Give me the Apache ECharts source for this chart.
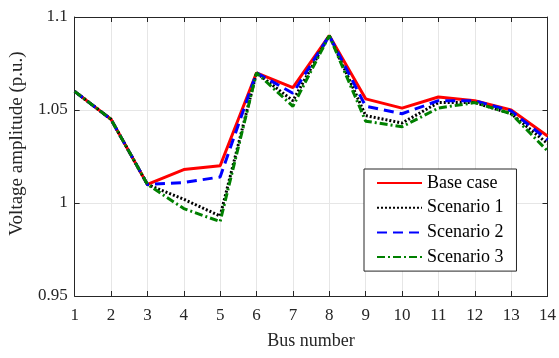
<!DOCTYPE html>
<html>
<head>
<meta charset="utf-8">
<script src="https://cdn.jsdelivr.net/npm/echarts@6/dist/echarts.min.js"></script>
<style>html,body{margin:0;padding:0;background:#fff;}#c{width:559px;height:358px;}</style>
</head>
<body>
<div id="c"></div>
<script>
const buses = [1,2,3,4,5,6,7,8,9,10,11,12,13,14];
const baseCase  = [1.060,1.045,1.010,1.018,1.020,1.070,1.062,1.090,1.056,1.051,1.057,1.055,1.050,1.036];
const scenario1 = [1.060,1.045,1.010,1.002,0.993,1.070,1.055,1.090,1.047,1.043,1.054,1.054,1.048,1.032];
const scenario2 = [1.060,1.045,1.010,1.011,1.014,1.070,1.059,1.090,1.052,1.048,1.055,1.055,1.0495,1.034];
const scenario3 = [1.060,1.045,1.010,0.997,0.990,1.070,1.052,1.090,1.044,1.041,1.051,1.054,1.048,1.028];
const seriesNames = ['Base case','Scenario 1','Scenario 2','Scenario 3'];
const yTicks = [0.95, 1, 1.05, 1.1];

const font = '"Liberation Serif","Times New Roman",serif';
const axisColor = '#262626';
const pair = arr => buses.map((b,i)=>[b,arr[i]]);

const chart = echarts.init(document.getElementById('c'));
const common = {min:1,max:14,interval:1};
chart.setOption({
  animation:false,
  backgroundColor:'#fff',
  grid:{left:74,right:9,top:17,bottom:62,containLabel:false},
  xAxis:[{
    type:'value',...common,position:'bottom',
    name:'Bus number',nameLocation:'middle',nameGap:36,
    nameTextStyle:{fontFamily:font,fontSize:18,color:axisColor},
    axisLine:{show:true,onZero:false,lineStyle:{color:axisColor,width:1}},
    axisTick:{show:true,inside:true,length:5,lineStyle:{color:axisColor}},
    axisLabel:{fontFamily:font,fontSize:17,color:axisColor,margin:11},
    splitLine:{show:true,lineStyle:{color:'#e6e6e6',width:1}}
  },{
    type:'value',...common,position:'top',
    axisLine:{show:true,onZero:false,lineStyle:{color:axisColor,width:1}},
    axisTick:{show:true,inside:true,length:5,lineStyle:{color:axisColor}},
    axisLabel:{show:false},splitLine:{show:false}
  }],
  yAxis:[{
    type:'value',min:0.95,max:1.1,interval:0.05,position:'left',
    name:'Voltage amplitude (p.u.)',nameLocation:'middle',nameGap:45,
    nameTextStyle:{fontFamily:font,fontSize:19,color:axisColor,padding:[0,0,0,26]},
    axisLine:{show:true,onZero:false,lineStyle:{color:axisColor,width:1}},
    axisTick:{show:true,inside:true,length:5,lineStyle:{color:axisColor}},
    axisLabel:{fontFamily:font,fontSize:17,color:axisColor,margin:7,
      formatter:v=>{const t=yTicks.find(x=>Math.abs(x-v)<1e-6);return t===undefined?'':String(t);}},
    splitLine:{show:true,lineStyle:{color:'#e6e6e6',width:1}}
  },{
    type:'value',min:0.95,max:1.1,interval:0.05,position:'right',
    axisLine:{show:true,onZero:false,lineStyle:{color:axisColor,width:1}},
    axisTick:{show:true,inside:true,length:5,lineStyle:{color:axisColor}},
    axisLabel:{show:false},splitLine:{show:false}
  }],
  legend:{
    orient:'vertical',left:364,top:169,
    padding:[5,13,5,12],itemGap:6.7,itemWidth:45,itemHeight:18,
    borderColor:axisColor,borderWidth:1,backgroundColor:'#fff',borderRadius:0,
    textStyle:{fontFamily:font,fontSize:18,color:'#000',lineHeight:18},
    itemStyle:{opacity:0},
    data:seriesNames
  },
  series:[
    {name:seriesNames[0],type:'line',data:pair(baseCase),symbol:'none',
     lineStyle:{color:'#ff0000',width:3,type:'solid'},itemStyle:{color:'#ff0000'}},
    {name:seriesNames[1],type:'line',data:pair(scenario1),symbol:'none',
     lineStyle:{color:'#000000',width:3,type:[2,2]},itemStyle:{color:'#000000'}},
    {name:seriesNames[2],type:'line',data:pair(scenario2),symbol:'none',
     lineStyle:{color:'#0000ff',width:3,type:[10,6]},itemStyle:{color:'#0000ff'}},
    {name:seriesNames[3],type:'line',data:pair(scenario3),symbol:'none',
     lineStyle:{color:'#008000',width:3,type:[8,3,2,3]},itemStyle:{color:'#008000'}}
  ]
});
</script>
</body>
</html>
